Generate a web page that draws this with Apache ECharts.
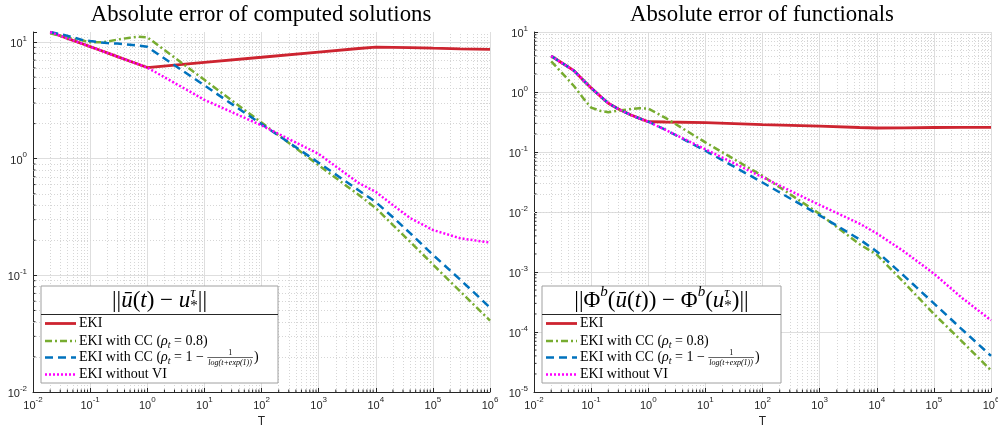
<!DOCTYPE html>
<html>
<head>
<meta charset="utf-8">
<script src="https://cdn.jsdelivr.net/npm/echarts@6/dist/echarts.min.js"></script>
<style>
html, body { margin: 0; padding: 0; background: #fff; }
#main { width: 998px; height: 429px; }
</style>
</head>
<body>
<div id="main"></div>
<script>
// ---- data ----
var titles = ['Absolute error of computed solutions', 'Absolute error of functionals'];
var seriesNames = ['EKI', 'EKI with CC (rho_t = 0.8)', 'EKI with CC (rho_t = 1 - 1/log(t+exp(1)))', 'EKI without VI'];

var tLeft = [0.02, 0.035, 0.05, 0.075, 0.1, 0.15, 0.2, 0.3, 0.5, 0.7, 1, 10, 100, 1000, 5000, 1e4, 2e4, 4e4, 1e5, 3e5, 1e6];
var leftEKI = [12.2, 11.0, 10.35, 9.62, 9.14, 8.5, 8.07, 7.51, 6.85, 6.45, 6.05, 6.7, 7.41, 8.2, 8.81, 9.05, 9.02, 8.97, 8.86, 8.75, 8.65];
var leftCC08 = [11.9, 11.1, 10.7, 10.3, 9.95, 9.95, 10.1, 10.5, 10.9, 11.1, 11.0, 4.75, 2.04, 0.88, 0.49, 0.378, 0.27, 0.194, 0.124, 0.073, 0.041];
var leftCCLog = [12.2, 11.5, 11.0, 10.4, 10.2, 9.95, 9.8, 9.7, 9.5, 9.35, 9.1, 4.25, 1.98, 0.925, 0.537, 0.425, 0.315, 0.23, 0.15, 0.092, 0.053];
var leftNoVI = [12.2, 11.0, 10.35, 9.62, 9.14, 8.5, 8.07, 7.51, 6.85, 6.45, 6.05, 3.2, 1.93, 1.1, 0.62, 0.52, 0.40, 0.31, 0.245, 0.208, 0.191];

var tRight = [0.02, 0.03, 0.05, 0.075, 0.1, 0.15, 0.2, 0.3, 0.5, 0.7, 1, 2, 10, 100, 1000, 5000, 1e4, 3e4, 1e5, 3e5, 1e6];
var rightEKI = [3.98, 3.1, 2.27, 1.53, 1.17, 0.824, 0.65, 0.52, 0.413, 0.363, 0.32, 0.316, 0.308, 0.287, 0.27, 0.256, 0.251, 0.252, 0.256, 0.258, 0.258];
var rightCC08 = [3.25, 2.14, 1.26, 0.76, 0.55, 0.48, 0.46, 0.49, 0.52, 0.535, 0.53, 0.37, 0.145, 0.04, 0.0093, 0.0029, 0.00195, 0.00067, 0.0002, 0.000072, 0.000023];
var rightCCLog = [3.98, 3.1, 2.27, 1.53, 1.17, 0.824, 0.65, 0.52, 0.413, 0.363, 0.32, 0.235, 0.105, 0.031, 0.0088, 0.0035, 0.0022, 0.00086, 0.0003, 0.000114, 0.00004];
var rightNoVI = [3.98, 3.1, 2.27, 1.53, 1.17, 0.824, 0.65, 0.52, 0.413, 0.363, 0.32, 0.234, 0.111, 0.038, 0.0131, 0.0064, 0.0044, 0.0022, 0.00094, 0.00038, 0.000157];

var yMin = [0.01, 1e-5];
var yMax = [12.2, 10];

// ---- styling ----
var ink = '#262626';
var sans = '"Liberation Sans", Arial, sans-serif';
var serifName = 'Liberation Serif';
var lineStyles = [
  { color: '#cd2430', type: 'solid', width: 2.8 },
  { color: '#77ac30', type: [7, 3, 2, 3], width: 2.5 },
  { color: '#0072bd', type: [8, 5], width: 2.5 },
  { color: '#ff00ff', type: [2, 2], width: 2.5 }
];

var chart = echarts.init(document.getElementById('main'));

function powerLabel(v) {
  var e = Math.log10(v), k = Math.round(e);
  if (Math.abs(e - k) > 1e-6) return '';
  return '{b|10}{e|' + k + '}';
}
var tickRich = {
  b: { fontFamily: sans, fontSize: 11, color: ink, padding: [4, 0, 0, 0], verticalAlign: 'bottom' },
  e: { fontFamily: sans, fontSize: 8, color: ink, verticalAlign: 'top' }
};

// minor positions (2..9 x 10^k), MATLAB style
function minorValues(lo, hi, cap) {
  var out = [];
  for (var k = lo; k < hi; k++) {
    for (var m = 2; m <= 9; m++) {
      var v = m * Math.pow(10, k);
      if (cap == null || v < cap) out.push(v);
    }
  }
  return out;
}
var xMinor = minorValues(-2, 6);
var yMinorSets = [minorValues(-2, 2, yMax[0]), minorValues(-5, 1)];

var grids = [
  { left: 33, top: 32, width: 457, height: 360, outerBoundsMode: 'none' },
  { left: 534, top: 32, width: 457, height: 360, outerBoundsMode: 'none' }
];

var xAxes = [], yAxes = [], series = [];
var tSets = [tLeft, tRight];
var valueSets = [[leftEKI, leftCC08, leftCCLog, leftNoVI], [rightEKI, rightCC08, rightCCLog, rightNoVI]];

function minorTickItem(params, api) {
  var p = api.coord([api.value(0), api.value(1)]);
  var vertical = api.value(2) === 0;
  return {
    type: 'line',
    shape: vertical ? { x1: p[0], y1: p[1], x2: p[0], y2: p[1] - 2.5 } : { x1: p[0], y1: p[1], x2: p[0] + 2.5, y2: p[1] },
    style: { stroke: ink, lineWidth: 1 }
  };
}

for (var i = 0; i < 2; i++) {
  xAxes.push({
    type: 'log', logBase: 10, gridIndex: i, min: 0.01, max: 1e6,
    name: 'T', nameLocation: 'middle', nameGap: 22,
    nameTextStyle: { fontFamily: sans, fontSize: 12, color: ink },
    axisLine: { show: true, onZero: false, lineStyle: { color: ink, width: 1 } },
    axisTick: { show: true, inside: true, length: 4, lineStyle: { color: ink } },
    axisLabel: { margin: 4, formatter: powerLabel, rich: tickRich },
    splitLine: { show: true, lineStyle: { color: '#dedede', width: 1 } }
  });
  yAxes.push({
    type: 'log', logBase: 10, gridIndex: i, min: yMin[i], max: yMax[i],
    axisLine: { show: true, onZero: false, lineStyle: { color: ink, width: 1 } },
    axisTick: { show: true, inside: true, length: 4, lineStyle: { color: ink } },
    axisLabel: { margin: 6, formatter: powerLabel, rich: tickRich },
    splitLine: { show: true, showMaxLine: i === 1, lineStyle: { color: '#dedede', width: 1 } }
  });
  // dotted minor grid drawn under the curves
  series.push({
    type: 'line', xAxisIndex: i, yAxisIndex: i, data: [], silent: true, z: 1,
    markLine: {
      silent: true, symbol: 'none', animation: false, z: 1,
      label: { show: false },
      emphasis: { disabled: true },
      lineStyle: { color: '#d6d6d6', type: [1, 2], width: 1 },
      data: xMinor.map(function (v) { return { xAxis: v }; })
        .concat(yMinorSets[i].map(function (v) { return { yAxis: v }; }))
    }
  });
  // minor tick marks on both axes
  series.push({
    type: 'custom', xAxisIndex: i, yAxisIndex: i, silent: true, z: 3, clip: false,
    renderItem: minorTickItem,
    data: xMinor.map(function (v) { return [v, yMin[i], 0]; })
      .concat(yMinorSets[i].map(function (v) { return [0.01, v, 1]; }))
  });
  for (var s = 0; s < 4; s++) {
    var t = tSets[i], vals = valueSets[i][s];
    series.push({
      name: seriesNames[s], type: 'line', xAxisIndex: i, yAxisIndex: i,
      data: t.map(function (x, j) { return [x, vals[j]]; }),
      symbol: 'none', showSymbol: false, animation: false, z: 4 + s,
      emphasis: { disabled: true },
      lineStyle: { color: lineStyles[s].color, type: lineStyles[s].type, width: lineStyles[s].width, cap: 'butt' }
    });
  }
}

// ---- legend boxes with LaTeX-like text ----
var measure = document.createElement('canvas').getContext('2d');
function fontStr(size, italic) { return (italic ? 'italic ' : '') + size + 'px "' + serifName + '"'; }
function widthOf(str, size, italic) { measure.font = fontStr(size, italic); return measure.measureText(str).width; }
function txt(x, y, str, size, italic, align) {
  return {
    type: 'text', x: x, y: y, z: 11, silent: true,
    style: {
      text: str, font: fontStr(size, italic), fill: '#000',
      align: align || 'left', textAlign: align || 'left',
      verticalAlign: 'middle', textVerticalAlign: 'middle'
    }
  };
}
function layoutMath(pieces, x0, y0, baseSize) {
  var els = [], x = x0;
  pieces.forEach(function (p) {
    var size = p.size || baseSize;
    if (p.num) {
      var w = Math.max(widthOf(p.num, size, false), widthOf(p.den, size, true)) + 2;
      els.push(txt(x + w / 2, y0 - size * 0.6, p.num, size, false, 'center'));
      els.push(txt(x + w / 2, y0 + size * 0.7, p.den, size, true, 'center'));
      els.push({ type: 'line', z: 11, silent: true, shape: { x1: x, y1: y0, x2: x + w, y2: y0 }, style: { stroke: '#000', lineWidth: 0.6 } });
      x += w + 1;
      return;
    }
    els.push(txt(x, y0 + (p.dy || 0), p.t, size, p.it, 'left'));
    if (!p.stack) x += widthOf(p.t, size, p.it);
  });
  return { els: els, width: x - x0 };
}

var headers = [
  [{ t: '||' }, { t: '\u016B', it: true }, { t: '(' }, { t: 't', it: true }, { t: ') \u2212 ' },
   { t: 'u', it: true }, { t: '\u03C4', it: true, size: 15, dy: -7, stack: true }, { t: '*', size: 15, dy: 6 }, { t: '||' }],
  [{ t: '||\u03A6' }, { t: 'b', it: true, size: 15, dy: -8 }, { t: '(' }, { t: '\u016B', it: true }, { t: '(' },
   { t: 't', it: true }, { t: ')) \u2212 \u03A6' }, { t: 'b', it: true, size: 15, dy: -8 }, { t: '(' },
   { t: 'u', it: true }, { t: '\u03C4', it: true, size: 15, dy: -7, stack: true }, { t: '*', size: 15, dy: 6 }, { t: ')||' }]
];
var entries = [
  [{ t: 'EKI' }],
  [{ t: 'EKI with CC (' }, { t: '\u03C1', it: true }, { t: 't', it: true, size: 10, dy: 4 }, { t: ' = 0.8)' }],
  [{ t: 'EKI with CC (' }, { t: '\u03C1', it: true }, { t: 't', it: true, size: 10, dy: 4 }, { t: ' = 1 \u2212 ' },
   { num: '1', den: 'log(t+exp(1))', size: 8 }, { t: ')' }],
  [{ t: 'EKI without VI' }]
];
var boxes = [{ x: 41, y: 286, w: 237, h: 97 }, { x: 542, y: 286, w: 239, h: 97 }];
var rowOffsets = [37.5, 55, 71.5, 88.5];

var graphicEls = [];
boxes.forEach(function (b, i) {
  graphicEls.push({ type: 'rect', z: 10, silent: true, shape: { x: b.x, y: b.y, width: b.w, height: b.h },
    style: { fill: '#fff', stroke: '#a0a0a0', lineWidth: 1 } });
  var hw = layoutMath(headers[i], 0, 0, 23).width;
  graphicEls = graphicEls.concat(layoutMath(headers[i], b.x + b.w / 2 - hw / 2, b.y + 14.5, 23).els);
  graphicEls.push({ type: 'line', z: 11, silent: true, shape: { x1: b.x, y1: b.y + 28.5, x2: b.x + b.w, y2: b.y + 28.5 },
    style: { stroke: ink, lineWidth: 1 } });
  rowOffsets.forEach(function (dy, s) {
    var ls = lineStyles[s];
    graphicEls.push({ type: 'line', z: 11, silent: true, shape: { x1: b.x + 4, y1: b.y + dy, x2: b.x + 35, y2: b.y + dy },
      style: { stroke: ls.color, lineWidth: ls.width, lineDash: ls.type === 'solid' ? null : ls.type, lineCap: 'butt' } });
    graphicEls = graphicEls.concat(layoutMath(entries[s], b.x + 38, b.y + dy, 14).els);
  });
});

var option = {
  backgroundColor: '#fff',
  animation: false,
  title: [
    { text: titles[0], left: 261, top: 4, textAlign: 'center', padding: 0,
      textStyle: { fontFamily: serifName, fontSize: 22.8, fontWeight: 'normal', color: '#000' } },
    { text: titles[1], left: 762, top: 4, textAlign: 'center', padding: 0,
      textStyle: { fontFamily: serifName, fontSize: 22.8, fontWeight: 'normal', color: '#000' } }
  ],
  grid: grids,
  xAxis: xAxes,
  yAxis: yAxes,
  series: series,
  graphic: { elements: graphicEls }
};
chart.setOption(option);
</script>
</body>
</html>
